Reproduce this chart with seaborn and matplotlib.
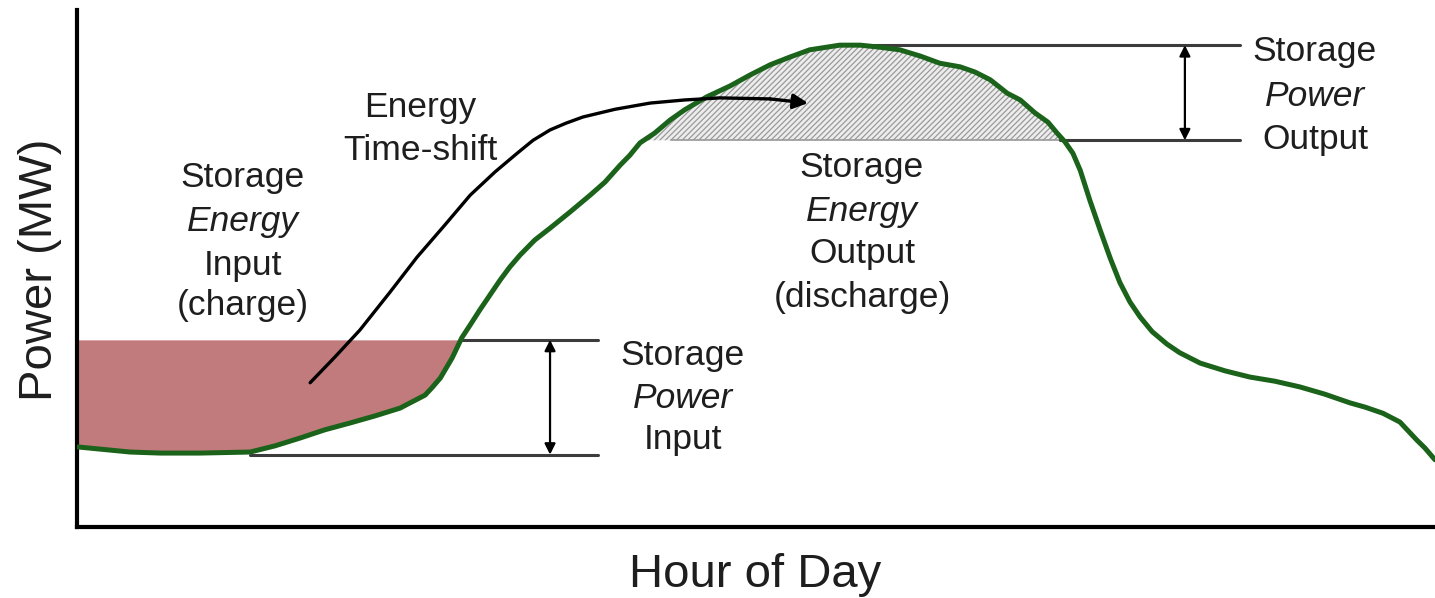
import numpy as np
import pandas as pd
import matplotlib
matplotlib.use("Agg")
import matplotlib.pyplot as plt
import seaborn as sns

# Load profile (hour of day, power in arbitrary MW units)
hours = [0.0, 0.94, 1.47, 2.17, 3.06, 3.50, 3.94, 4.38, 4.82, 5.27, 5.71, 5.92,
         6.15, 6.27, 6.42, 6.63, 6.80, 6.95, 7.12, 7.30, 7.48, 7.65, 7.83, 8.09,
         8.36, 8.71, 9.07, 9.33, 9.60, 9.77, 9.95, 10.21, 10.48, 10.74, 11.13,
         11.54, 11.89, 12.25, 12.60, 12.95, 13.48, 13.84, 14.19, 14.54, 14.90,
         15.25, 15.61, 15.87, 16.14, 16.44, 16.67, 16.93, 17.16, 17.32, 17.46,
         17.60, 17.73, 17.90, 18.08, 18.26, 18.43, 18.61, 18.79, 19.00, 19.26,
         19.49, 19.85, 20.29, 20.73, 21.17, 21.61, 22.05, 22.50, 22.76, 23.08,
         23.38, 23.68, 23.82, 24.0]
power = [15.5, 14.5, 14.3, 14.3, 14.5, 15.7, 17.2, 18.8, 20.1, 21.5, 23.0, 24.2,
         25.5, 26.9, 28.8, 32.7, 36.6, 39.1, 42.0, 44.9, 47.8, 50.3, 52.6, 55.5,
         57.8, 60.9, 64.2, 66.7, 70.0, 71.9, 74.3, 76.2, 78.7, 80.7, 83.2,
         85.3, 87.4, 89.4, 90.9, 92.3, 93.2, 93.2, 92.8, 92.3, 91.1,
         89.7, 89.0, 88.0, 86.5, 83.9, 82.6, 80.1, 78.3, 76.2, 74.5,
         72.3, 69.0, 63.2, 57.5, 52.0, 47.3, 43.5, 40.6, 37.8, 35.4,
         33.7, 31.7, 30.2, 29.0, 28.2, 27.1, 25.7, 24.0, 23.2, 22.0,
         20.3, 16.8, 15.3, 13.0]

# Energy time-shift arrow path
shift_hours = [4.12, 4.56, 5.00, 5.53, 6.01, 6.50, 6.95, 7.39, 7.78, 8.06, 8.36,
               8.64, 8.94, 9.51, 10.13, 10.74, 11.36, 12.25, 12.92]
shift_power = [27.9, 32.9, 38.1, 45.4, 52.2, 58.4, 64.2, 68.7, 72.3, 74.8, 76.8,
               78.1, 79.3, 80.8, 82.0, 82.6, 83.0, 82.8, 82.0]

# Reference levels
base_level = 14.0
charge_level = 36.2
discharge_level = 74.8
peak_level = 93.2

df = pd.DataFrame({"hour": hours, "power": power})

sns.set_style("white")
plt.rcParams["font.family"] = ["Liberation Sans", "DejaVu Sans"]
plt.rcParams["hatch.linewidth"] = 0.9
plt.rcParams["hatch.color"] = "#9a9a9a"

fig = plt.figure(figsize=(14.35, 5.98), dpi=100)
ax = fig.add_axes([77 / 1435, 71 / 598, 1358 / 1435, 517 / 598])

h = np.array(hours)
p = np.array(power)

# charging area (below charge level, morning)
ax.fill_between(h, p, charge_level, where=(p <= charge_level) & (h < 12),
                interpolate=True, color="#c27b7d", linewidth=0, zorder=1)
# discharging area (above discharge level)
ax.fill_between(h, p, discharge_level, where=p >= discharge_level,
                interpolate=True, facecolor="#ededed", edgecolor="#9a9a9a",
                hatch="//////", linewidth=0, zorder=1)

line_kw = dict(color="#3c3c3c", lw=2.2, zorder=2)
ax.plot([3.06, 9.21], [base_level, base_level], **line_kw)
ax.plot([6.77, 9.21], [charge_level, charge_level], **line_kw)
ax.plot([10.5, 20.55], [discharge_level, discharge_level], color="#9a9a9a", lw=1.2, zorder=2)
ax.plot([17.37, 20.55], [discharge_level, discharge_level], **line_kw)
ax.plot([13.48, 20.55], [peak_level, peak_level], **line_kw)

arrow_kw = dict(arrowstyle="<|-|>", color="black", lw=1.6, mutation_scale=16,
                shrinkA=0, shrinkB=0)
ax.annotate("", xy=(8.36, base_level), xytext=(8.36, charge_level), arrowprops=arrow_kw)
ax.annotate("", xy=(19.58, discharge_level), xytext=(19.58, peak_level), arrowprops=arrow_kw)

# green load curve
sns.lineplot(data=df, x="hour", y="power", ax=ax, color="#1b631b", lw=3.6,
             sort=False, zorder=4, solid_capstyle="round", solid_joinstyle="round")

# time-shift arrow
ax.plot(shift_hours[:-1], shift_power[:-1], color="black", lw=2.4, zorder=5,
        solid_capstyle="round", solid_joinstyle="round")
ax.annotate("", xy=(shift_hours[-1], shift_power[-1]),
            xytext=(shift_hours[-2], shift_power[-2]),
            arrowprops=dict(arrowstyle="-|>", color="black", lw=2.4,
                            mutation_scale=22, shrinkA=0, shrinkB=0), zorder=5)

ax.set_xlim(0, 24)
ax.set_ylim(0, 100)
ax.set_xticks([])
ax.set_yticks([])
ax.set_xlabel("")
ax.set_ylabel("")
for side in ["top", "right"]:
    ax.spines[side].set_visible(False)
for side in ["left", "bottom"]:
    ax.spines[side].set_color("black")
    ax.spines[side].set_linewidth(3.0)

txt = "#1e1e1e"
fs = 25.5


def label(x, ys, lines):
    for y, (s, style) in zip(ys, lines):
        fig.text(x / 1435, 1 - y / 598, s, ha="center", va="center",
                 fontsize=fs, style=style, color=txt)


label(243, [178, 222, 265, 306],
      [("Storage", "normal"), ("Energy", "italic"), ("Input", "normal"), ("(charge)", "normal")])
label(420, [107, 150], [("Energy", "normal"), ("Time-shift", "normal")])
label(683, [355, 398, 440],
      [("Storage", "normal"), ("Power", "italic"), ("Input", "normal")])
label(862, [168, 211, 254, 297],
      [("Storage", "normal"), ("Energy", "italic"), ("Output", "normal"), ("(discharge)", "normal")])
label(1315, [52, 96, 139],
      [("Storage", "normal"), ("Power", "italic"), ("Output", "normal")])

fig.text(755 / 1435, 1 - 575 / 598, "Hour of Day", ha="center", va="center",
         fontsize=34, color=txt)
fig.text(40 / 1435, 1 - 270 / 598, "Power (MW)", ha="center", va="center",
         fontsize=34, color=txt, rotation=90)

fig.savefig("out.png", dpi=100)
